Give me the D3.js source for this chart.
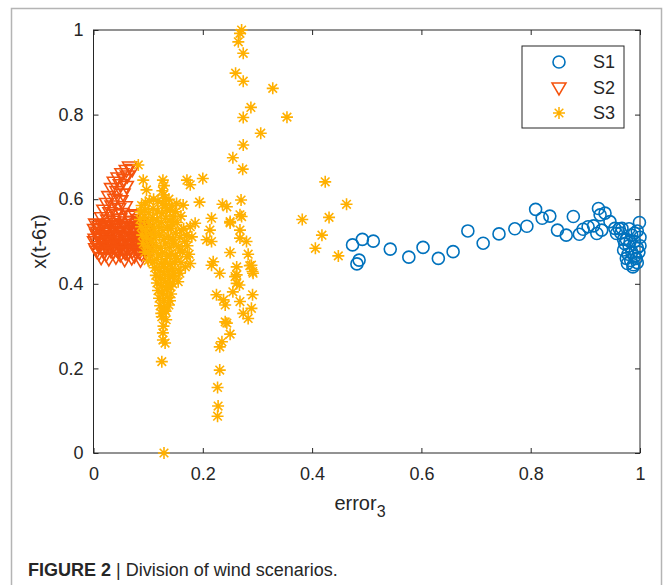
<!DOCTYPE html>
<html>
<head>
<meta charset="utf-8">
<script src="https://cdn.jsdelivr.net/npm/d3@7"></script>
<style>
  body { margin: 0; background: #fff; }
  text { font-family: "Liberation Sans", Arial, Helvetica, sans-serif; fill: #262626; }
</style>
</head>
<body>
<div id="chart"></div>
<script>
// S1 : blue circles
var s1 = [
  [0.474,0.492],[0.492,0.505],[0.512,0.501],[0.486,0.456],[0.482,0.447],
  [0.543,0.482],[0.577,0.463],[0.603,0.486],[0.631,0.460],[0.658,0.476],
  [0.685,0.525],[0.713,0.496],[0.742,0.518],[0.771,0.530],[0.793,0.536],
  [0.809,0.576],[0.821,0.555],[0.835,0.560],[0.849,0.527],[0.865,0.515],
  [0.878,0.559],[0.889,0.517],[0.896,0.529],[0.905,0.535],[0.915,0.537],
  [0.924,0.578],[0.927,0.563],[0.936,0.567],[0.921,0.519],[0.930,0.527],
  [0.945,0.547],[0.954,0.531],[0.967,0.531],[0.957,0.519],[0.999,0.545],
  [0.975,0.505],[0.980,0.490],[0.985,0.515],[0.990,0.500],[0.995,0.485],
  [0.978,0.470],[0.983,0.455],[0.988,0.445],[0.993,0.460],[0.998,0.475],
  [0.970,0.480],[0.975,0.460],[0.985,0.475],[0.990,0.520],[1.000,0.510],
  [0.995,0.525],[0.980,0.530],[0.972,0.495],[0.987,0.440],[0.995,0.450],
  [0.965,0.520],[1.000,0.490],[0.982,0.500],[0.990,0.465],[0.977,0.448],
  [0.970,0.505],[0.962,0.530]
];

// S2 : red-orange triangles
var s2 = [
  [0.066,0.676],[0.071,0.670],[0.060,0.668],[0.052,0.660],[0.062,0.655],[0.045,0.650],
  [0.056,0.646],[0.038,0.640],[0.049,0.634],[0.060,0.630],[0.033,0.625],[0.043,0.618],
  [0.054,0.612],[0.028,0.606],[0.039,0.600],[0.050,0.596],[0.024,0.590],[0.034,0.584],
  [0.046,0.578],[0.058,0.582],[0.019,0.574],[0.030,0.568],[0.041,0.563],[0.052,0.566],
  [0.064,0.560],[0.076,0.563],[0.082,0.552],[0.070,0.548],[0.015,0.556],[0.026,0.551],
  [0.037,0.548],[0.048,0.553],[0.058,0.546],[0.088,0.545],
  [0.004,0.541],[0.016,0.538],[0.029,0.542],[0.041,0.537],[0.055,0.540],[0.067,0.536],[0.080,0.541],[0.093,0.537],
  [0.002,0.528],[0.012,0.531],[0.024,0.526],[0.036,0.529],[0.049,0.524],[0.061,0.530],[0.074,0.527],[0.086,0.523],[0.098,0.529],
  [0.006,0.517],[0.019,0.514],[0.031,0.519],[0.044,0.515],[0.057,0.512],[0.069,0.518],[0.082,0.513],[0.095,0.516],
  [0.003,0.505],[0.014,0.508],[0.027,0.503],[0.039,0.506],[0.052,0.501],[0.064,0.507],[0.077,0.504],[0.089,0.500],[0.101,0.506],
  [0.008,0.494],[0.021,0.497],[0.033,0.491],[0.046,0.495],[0.059,0.490],[0.071,0.496],[0.084,0.492],[0.096,0.489],
  [0.004,0.483],[0.017,0.480],[0.030,0.485],[0.042,0.481],[0.055,0.478],[0.068,0.484],[0.080,0.479],[0.093,0.482],
  [0.010,0.472],[0.023,0.469],[0.036,0.474],[0.049,0.468],[0.062,0.471],[0.075,0.466],[0.088,0.470],[0.099,0.465],
  [0.014,0.462],[0.028,0.459],[0.041,0.463],[0.057,0.457],[0.070,0.461],[0.086,0.456],
  [0.010,0.536],[0.022,0.533],[0.035,0.535],[0.047,0.531],[0.060,0.534],[0.073,0.532],[0.086,0.535],
  [0.008,0.522],[0.018,0.520],[0.030,0.523],[0.043,0.521],[0.055,0.519],[0.068,0.523],[0.080,0.520],[0.092,0.522],
  [0.009,0.511],[0.021,0.509],[0.033,0.512],[0.046,0.510],[0.058,0.507],[0.071,0.511],[0.083,0.508],[0.096,0.510],
  [0.002,0.499],[0.014,0.500],[0.027,0.497],[0.040,0.500],[0.052,0.496],[0.065,0.501],[0.078,0.498],[0.091,0.495],
  [0.010,0.488],[0.023,0.486],[0.036,0.489],[0.048,0.487],[0.061,0.484],[0.074,0.489],[0.087,0.487],[0.099,0.484],
  [0.006,0.477],[0.019,0.475],[0.032,0.478],[0.045,0.476],[0.058,0.473],[0.071,0.477],[0.084,0.474],[0.096,0.477]
];

// S3 : yellow asterisks
var s3 = [
  [0.271,1.000],[0.268,0.992],[0.265,0.972],[0.274,0.945],[0.260,0.898],[0.274,0.879],
  [0.328,0.862],[0.288,0.817],[0.274,0.793],[0.354,0.794],[0.306,0.756],[0.274,0.728],
  [0.255,0.698],[0.273,0.671],[0.200,0.649],[0.424,0.641],[0.463,0.588],[0.382,0.552],
  [0.431,0.557],[0.418,0.515],[0.406,0.484],[0.448,0.466],[0.270,0.598],[0.236,0.588],
  [0.244,0.582],[0.216,0.555],[0.271,0.559],[0.250,0.544],[0.213,0.527],[0.207,0.504],
  [0.216,0.500],[0.268,0.527],[0.268,0.508],[0.280,0.500],[0.250,0.474],[0.283,0.470],
  [0.219,0.452],[0.216,0.444],[0.286,0.443],[0.231,0.425],[0.262,0.440],[0.262,0.421],
  [0.291,0.429],[0.289,0.444],[0.292,0.425],[0.259,0.417],[0.250,0.547],[0.268,0.563],
  [0.129,0.000],[0.125,0.216],[0.127,0.284],[0.127,0.267],[0.131,0.260],[0.125,0.322],
  [0.131,0.338],[0.231,0.196],[0.227,0.155],[0.228,0.111],[0.227,0.087],[0.231,0.251],
  [0.235,0.263],[0.250,0.281],[0.241,0.310],[0.244,0.307],[0.225,0.374],[0.238,0.362],
  [0.241,0.350],[0.255,0.381],[0.268,0.358],[0.291,0.374],[0.274,0.330],[0.283,0.318],
  [0.289,0.342],[0.262,0.401],[0.267,0.397],
  [0.082,0.681],[0.091,0.645],[0.097,0.622],[0.171,0.645],[0.177,0.634],[0.152,0.590],
  [0.164,0.586],[0.194,0.593],[0.140,0.574],[0.146,0.559],[0.161,0.527],[0.177,0.535],
  [0.186,0.543],[0.180,0.511],[0.167,0.500],[0.171,0.464],[0.177,0.448],[0.158,0.480],
  [0.158,0.425],[0.155,0.405],
  [0.127,0.645],[0.129,0.632],[0.126,0.620],[0.128,0.610],[0.131,0.603],
  [0.088,0.585],[0.095,0.592],[0.102,0.596],[0.110,0.600],[0.118,0.596],[0.126,0.590],[0.133,0.585],
  [0.086,0.570],[0.094,0.575],[0.101,0.568],[0.109,0.578],[0.117,0.572],[0.125,0.566],[0.134,0.574],
  [0.085,0.552],[0.093,0.558],[0.100,0.548],[0.108,0.556],[0.116,0.550],[0.124,0.545],[0.132,0.555],[0.140,0.548],
  [0.087,0.535],[0.095,0.528],[0.103,0.538],[0.111,0.530],[0.119,0.535],[0.127,0.526],[0.135,0.533],
  [0.089,0.515],[0.097,0.508],[0.105,0.518],[0.113,0.510],[0.121,0.515],[0.129,0.505],[0.137,0.512],[0.145,0.505],
  [0.091,0.495],[0.099,0.488],[0.107,0.498],[0.115,0.490],[0.123,0.484],[0.131,0.494],[0.139,0.486],
  [0.094,0.475],[0.102,0.470],[0.110,0.478],[0.118,0.468],[0.126,0.474],[0.134,0.465],[0.142,0.472],[0.150,0.466],
  [0.100,0.455],[0.108,0.450],[0.116,0.458],[0.124,0.448],[0.132,0.454],[0.140,0.446],[0.148,0.452],
  [0.112,0.438],[0.120,0.432],[0.128,0.440],[0.136,0.430],[0.144,0.436],
  [0.114,0.420],[0.122,0.414],[0.130,0.422],[0.138,0.412],[0.146,0.418],
  [0.116,0.402],[0.124,0.396],[0.132,0.404],[0.140,0.394],
  [0.118,0.384],[0.126,0.378],[0.134,0.386],[0.142,0.376],
  [0.120,0.366],[0.128,0.360],[0.136,0.368],
  [0.122,0.348],[0.130,0.342],[0.138,0.350],
  [0.124,0.330],[0.132,0.335],
  [0.142,0.530],[0.150,0.520],[0.158,0.510],[0.146,0.495],[0.155,0.488],[0.163,0.475],
  [0.152,0.460],[0.160,0.450],[0.168,0.440],[0.148,0.420],[0.156,0.432],[0.143,0.585],
  [0.150,0.570],[0.138,0.600],[0.145,0.540],[0.153,0.545],[0.160,0.560],[0.165,0.530],
  [0.170,0.515],[0.175,0.470],[0.172,0.490],[0.135,0.395],[0.145,0.400],[0.140,0.360],
  [0.128,0.300],[0.133,0.315]
];

var xTicks = [0, 0.2, 0.4, 0.6, 0.8, 1];
var yTicks = [0, 0.2, 0.4, 0.6, 0.8, 1];
var seriesNames = ["S1", "S2", "S3"];
var colors = ["#0072BD", "#F5520C", "#FFB000"];

var W = 663, H = 585;
var svg = d3.select("#chart").append("svg")
    .attr("width", W).attr("height", H);

// figure frame
svg.append("rect")
    .attr("x", 11.5).attr("y", 8.5)
    .attr("width", 650).attr("height", 600)
    .attr("fill", "none").attr("stroke", "#b4b4b4").attr("stroke-width", 1.5);

var mLeft = 93.5, mRight = 640, mTop = 30, mBottom = 453;
var x = d3.scaleLinear().domain([0, 1]).range([mLeft, mRight]);
var y = d3.scaleLinear().domain([0, 1]).range([mBottom, mTop]);

var fmt = function(d){ return d === 0 || d === 1 ? d : d.toFixed(1); };

// axes (ticks inward)
var axB = svg.append("g").attr("transform", "translate(0," + mBottom + ")")
    .call(d3.axisBottom(x).tickValues(xTicks).tickFormat(fmt).tickSize(-5).tickPadding(14));
var axL = svg.append("g").attr("transform", "translate(" + mLeft + ",0)")
    .call(d3.axisLeft(y).tickValues(yTicks).tickFormat(fmt).tickSize(-5).tickPadding(10));
var axT = svg.append("g").attr("transform", "translate(0," + mTop + ")")
    .call(d3.axisTop(x).tickValues(xTicks).tickFormat("").tickSize(-5));
var axR = svg.append("g").attr("transform", "translate(" + mRight + ",0)")
    .call(d3.axisRight(y).tickValues(yTicks).tickFormat("").tickSize(-5));

[axB, axL, axT, axR].forEach(function(a){
  a.select(".domain").remove();
  a.selectAll(".tick line").attr("stroke", "#262626");
  a.selectAll("text").style("font-size", "18px").attr("fill", "#262626")
    .style("font-family", "'Liberation Sans', Arial, sans-serif");
});

svg.append("rect")
    .attr("x", mLeft).attr("y", mTop)
    .attr("width", mRight - mLeft).attr("height", mBottom - mTop)
    .attr("fill", "none").attr("stroke", "#262626").attr("stroke-width", 1);

var plot = svg.append("g");

var starPath = "M-6,0H6M0,-6V6M-4.3,-4.3L4.3,4.3M-4.3,4.3L4.3,-4.3";
var triPath = "M-7,-5L7,-5L0,7Z";

plot.selectAll(".s1").data(s1).enter().append("circle")
    .attr("cx", function(d){ return x(d[0]); })
    .attr("cy", function(d){ return y(d[1]); })
    .attr("r", 6)
    .attr("fill", "none").attr("stroke", colors[0]).attr("stroke-width", 1.6);

plot.selectAll(".s2").data(s2).enter().append("path")
    .attr("d", triPath)
    .attr("transform", function(d){ return "translate(" + x(d[0]) + "," + y(d[1]) + ")"; })
    .attr("fill", "none").attr("stroke", colors[1]).attr("stroke-width", 1.6);

plot.selectAll(".s3").data(s3).enter().append("path")
    .attr("d", starPath)
    .attr("transform", function(d){ return "translate(" + x(d[0]) + "," + y(d[1]) + ")"; })
    .attr("fill", "none").attr("stroke", colors[2]).attr("stroke-width", 1.6);

// axis labels
var xl = svg.append("text")
    .attr("x", 360).attr("y", 510)
    .attr("text-anchor", "middle")
    .style("font-size", "20px");
xl.append("tspan").text("error");
xl.append("tspan").attr("dy", 7).style("font-size", "16px").text("3");

svg.append("text")
    .attr("transform", "translate(46," + ((mTop + mBottom) / 2) + ") rotate(-90)")
    .attr("text-anchor", "middle")
    .style("font-size", "20px")
    .text("x(t-6τ)");

// legend
var lg = svg.append("g");
lg.append("rect")
    .attr("x", 522).attr("y", 46).attr("width", 102).attr("height", 82)
    .attr("fill", "#fff").attr("stroke", "#262626").attr("stroke-width", 1);
var legY = [62, 88, 113];
seriesNames.forEach(function(n, i){
  var g = lg.append("g").attr("transform", "translate(559," + legY[i] + ")");
  if (i === 0) g.append("circle").attr("r", 6).attr("fill", "none").attr("stroke", colors[0]).attr("stroke-width", 1.6);
  if (i === 1) g.append("path").attr("d", triPath).attr("fill", "none").attr("stroke", colors[1]).attr("stroke-width", 1.5);
  if (i === 2) g.append("path").attr("d", starPath).attr("fill", "none").attr("stroke", colors[2]).attr("stroke-width", 1.5);
  lg.append("text").attr("x", 593).attr("y", legY[i] + 6).style("font-size", "18px").text(n);
});

// caption
var cap = svg.append("text").attr("x", 28).attr("y", 576).style("font-size", "18px");
cap.append("tspan").style("font-weight", "bold").text("FIGURE 2");
cap.append("tspan").text(" | Division of wind scenarios.");
</script>
</body>
</html>
